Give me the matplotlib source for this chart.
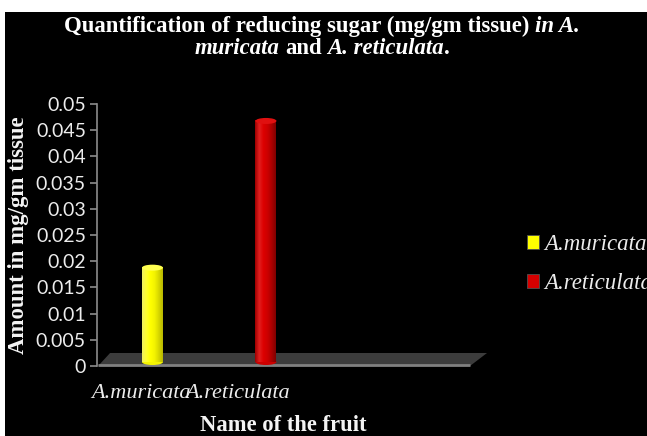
import matplotlib.pyplot as plt
import numpy as np
from matplotlib.patches import Rectangle, Ellipse, Polygon, Patch
from matplotlib.transforms import Affine2D
from matplotlib.colors import LinearSegmentedColormap
#-------------------------------------------------------------------------------
# data
fruits = ["A.muricata", "A.reticulata"]
sugar = [0.018, 0.046]
bar_colors = ["#ffff00", "#d40000"]
yticks = [0.0, 0.005, 0.01, 0.015, 0.02, 0.025, 0.03, 0.035, 0.04, 0.045, 0.05]
#-------------------------------------------------------------------------------
W, H = 647, 436
fig = plt.figure(figsize=(W/100, H/100), dpi=100, facecolor="white")
# black panel (thin white margin on top/left in the original)
fig.patches.append(Rectangle((5/W, 0), 1, 1 - 12/H, transform=fig.transFigure,
                             facecolor="black", edgecolor="none", zorder=-10))

# axes box in pixels: x 97..470, y 104..366
ax = fig.add_axes([97/W, (H-366)/H, 373/W, 262/H])
ax.set_facecolor("none")
ax.patch.set_visible(False)

cat_px = 97.0       # pixels per category
first_px = 141.0    # pixel of first category label
ax.set_xlim(-(first_px-97)/cat_px, (470-first_px)/cat_px)
ax.set_ylim(0, 0.05)

# fake 3d floor
floor = Polygon([(0.003, 0), (1.0, 0), (1.0456, 0.0496), (0.035, 0.0496)],
                closed=True, transform=ax.transAxes, facecolor="#3c3c3c",
                edgecolor="none", clip_on=False, zorder=1)
ax.add_patch(floor)
ax.plot([0.003, 1.0], [0.002, 0.002], transform=ax.transAxes, color="#808080",
        lw=2, clip_on=False, zorder=2, solid_capstyle="butt")

# bars sit a bit deeper in the "3d" scene: stretch and lift them
bar_trans = Affine2D().scale(1.17, 1).translate(-12.5, 4)
trans = ax.transData + bar_trans
bw = 0.185
eh = 0.00115
grads = {
    "#ffff00": ["#f0f060", "#ffff30", "#ffff00", "#f4f400", "#d8d800", "#b8b800"],
    "#d40000": ["#a00000", "#e02020", "#dd0000", "#cc0000", "#aa0000", "#800000"],
}
tops = {"#ffff00": "#ffff50", "#d40000": "#e01010"}
xs = np.arange(len(fruits))
for x, v, c in zip(xs, sugar, bar_colors):
    cmap = LinearSegmentedColormap.from_list("g", grads[c])
    # bottom rounding
    ax.add_patch(Ellipse((x, 0), bw, eh, transform=trans, facecolor=grads[c][3],
                         edgecolor="none", zorder=3, clip_on=False))
    ax.imshow(np.linspace(0, 1, 64).reshape(1, -1), cmap=cmap, aspect="auto",
              extent=[x-bw/2, x+bw/2, 0, v], transform=trans, zorder=4,
              interpolation="bilinear", clip_on=False)
    ax.add_patch(Ellipse((x, v), bw, eh, transform=trans, facecolor=tops[c],
                         edgecolor="none", zorder=5, clip_on=False))
ax.set_xlim(-(first_px-97)/cat_px, (470-first_px)/cat_px)
ax.set_ylim(0, 0.05)

# axes styling
for s in ["top", "right", "bottom"]:
    ax.spines[s].set_visible(False)
ax.spines["left"].set_color("#8c8c8c")
ax.spines["left"].set_linewidth(1.2)
ax.set_yticks(yticks)
ax.set_yticklabels([f"{t:g}" for t in yticks])
ax.tick_params(axis="y", colors="#8c8c8c", length=5, width=1.2, pad=3,
               labelcolor="#ececec", labelsize=14)
for lab in ax.get_yticklabels():
    lab.set_family("Lato")
ax.set_xticks(xs)
ax.set_xticklabels(fruits, family="Liberation Serif", style="italic",
                   fontsize=16, color="#ececec")
ax.tick_params(axis="x", length=0, pad=13)

ax.set_ylabel("Amount in mg/gm tissue", family="Liberation Serif",
              weight="bold", fontsize=16.4, color="#f4f4f4", va="center")
ax.yaxis.set_label_coords(-0.21, 0.5)
ax.set_xlabel("Name of the fruit", family="Liberation Serif", weight="bold",
              fontsize=16.3, color="#f4f4f4", va="center")
ax.xaxis.set_label_coords(0.5, -0.229)

# legend
handles = [Patch(facecolor=c, edgecolor="#505050", linewidth=0.6) for c in bar_colors]
fig.legend(handles, fruits, loc="center left", bbox_to_anchor=(506/W, 1-264/H),
           frameon=False, handlelength=0.55, handleheight=0.55,
           handletextpad=0.2, labelspacing=0.8, labelcolor="#ececec",
           prop=dict(family="Liberation Serif", style="italic", size=16.5))

# two-line title with mixed bold / bold-italic pieces
title_lines = [
    [("Quantification of reducing sugar (mg/gm tissue)", "normal"), ("in A.", "italic")],
    [("muricata", "italic"), ("and", "normal"), ("A. reticulata", "italic"), (".", "normal")],
]
title_y = [26, 49]
tsize = 16.4
renderer = fig.canvas.get_renderer()
def width_px(txt):
    return txt.get_window_extent(renderer).width
probe = fig.text(0, 0, "a a", family="Liberation Serif", weight="bold", size=tsize)
probe2 = fig.text(0, 0, "aa", family="Liberation Serif", weight="bold", size=tsize)
space = width_px(probe) - width_px(probe2)
probe.remove()
probe2.remove()
for pieces, yp in zip(title_lines, title_y):
    objs = []
    for s, st in pieces:
        objs.append(fig.text(0, 1 - yp/H, s, family="Liberation Serif",
                             weight="bold", style=st, size=tsize, color="white",
                             va="center", ha="left"))
    ws = [width_px(o) for o in objs]
    gaps = [0 if s == "." else space for s, _ in pieces[1:]]
    total = sum(ws) + sum(gaps)
    x = 322 - total/2
    for i, o in enumerate(objs):
        o.set_x(x/W)
        x += ws[i] + (gaps[i] if i < len(gaps) else 0)

fig.savefig("out.png", dpi=100, facecolor=fig.get_facecolor())
